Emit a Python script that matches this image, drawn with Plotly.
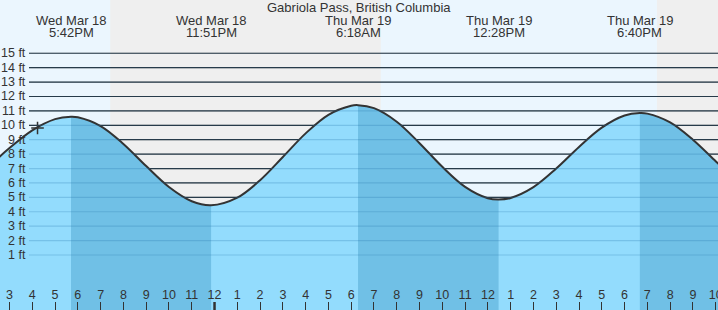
import plotly.graph_objects as go

# ---------------- data ----------------
title_text = "Gabriola Pass, British Columbia"

# tide curve (hours since Wed Mar 18 00:00, feet)
tide_times = [14.5, 15, 16, 17, 17.70, 18, 19, 20, 21, 22, 23, 23.85,
              25, 26, 27, 28, 29, 30, 30.30, 31, 32, 33, 34, 35, 36, 36.47,
              37, 38, 39, 40, 41, 42, 42.67, 43, 44, 45, 46, 46.5]
tide_heights = [7.73, 8.42, 9.65, 10.43, 10.60, 10.56, 9.95, 8.71, 7.17, 5.72, 4.73, 4.45,
                4.98, 6.19, 7.80, 9.44, 10.73, 11.36, 11.40, 11.19, 10.25, 8.76, 7.12, 5.73, 4.94, 4.85,
                4.96, 5.71, 7.00, 8.50, 9.84, 10.68, 10.85, 10.81, 10.20, 9.00, 7.51, 6.77]

# high / low extremes
ext_times = [17.70, 23.85, 30.30, 36.47, 42.67]
ext_types = ["high", "low", "high", "low", "high"]
ext_day_labels = ["Wed Mar 18", "Wed Mar 18", "Thu Mar 19", "Thu Mar 19", "Thu Mar 19"]
ext_time_labels = ["5:42PM", "11:51PM", "6:18AM", "12:28PM", "6:40PM"]

# sunset / sunrise (hours)
night_start = [19.42, 43.42]
night_end = [31.30, 50.0]

# current-time marker
now_time = [16.23]
now_height = [9.81]

# axes
x_range = [14.583, 46.102]
y_range = [-2.818, 18.696]
hour_ticks = list(range(15, 47))
hour_labels = [str((h - 1) % 12 + 1) for h in hour_ticks]
midnight_ticks = [24]
ft_levels = list(range(1, 16))
ft_labels = [f"{v} ft" for v in ft_levels]

# ---------------- style ----------------
DAY_BG = "#ebf6fe"
NIGHT_BG = "#efefef"
FLOOD_FILL = "#93dcfd"
EBB_FILL = "#70c0e6"
TEXT = "#333333"
FONT = "Liberation Sans, Arial, sans-serif"

fig = go.Figure()

# light fill under whole curve
base = y_range[0]
fig.add_trace(go.Scatter(x=tide_times, y=[base] * len(tide_times), mode="lines",
                         line=dict(width=0), hoverinfo="skip", showlegend=False))
fig.add_trace(go.Scatter(x=tide_times, y=tide_heights, mode="lines", fill="tonexty",
                         fillcolor=FLOOD_FILL, line=dict(width=0, shape="spline"),
                         hoverinfo="skip", showlegend=False))

# darker fill on falling (ebb) tide: from each high to the next low
for i, t0 in enumerate(ext_times):
    if ext_types[i] != "high":
        continue
    t1 = ext_times[i + 1] if i + 1 < len(ext_times) else tide_times[-1]
    seg_x = [t for t in tide_times if t0 <= t <= t1]
    seg_y = [h for t, h in zip(tide_times, tide_heights) if t0 <= t <= t1]
    fig.add_trace(go.Scatter(x=seg_x, y=[base] * len(seg_x), mode="lines",
                             line=dict(width=0), hoverinfo="skip", showlegend=False))
    fig.add_trace(go.Scatter(x=seg_x, y=seg_y, mode="lines", fill="tonexty",
                             fillcolor=EBB_FILL, line=dict(width=0, shape="spline"),
                             hoverinfo="skip", showlegend=False))

# curve outline
fig.add_trace(go.Scatter(x=tide_times, y=tide_heights, mode="lines",
                         line=dict(color="#333333", width=2, shape="spline"),
                         hoverinfo="skip", showlegend=False))

# current time marker
fig.add_trace(go.Scatter(x=now_time, y=now_height, mode="markers",
                         marker=dict(symbol="cross-thin", size=9,
                                     line=dict(color="#333333", width=1.5)),
                         hoverinfo="skip", showlegend=False))

shapes = []
for a, b in zip(night_start, night_end):
    shapes.append(dict(type="rect", xref="x", yref="paper", x0=a, x1=b, y0=0, y1=1,
                       fillcolor=NIGHT_BG, line=dict(width=0), layer="below"))
for v in ft_levels:
    shapes.append(dict(type="line", xref="paper", yref="y", x0=29 / 718, x1=1, y0=v, y1=v,
                       line=dict(color="#2a2a2a", width=1.2), layer="below"))
    shapes.append(dict(type="line", xref="paper", yref="y", x0=29 / 718, x1=1, y0=v, y1=v,
                       line=dict(color="rgba(30,110,170,0.25)", width=1.2), layer="above"))
for m in midnight_ticks:
    shapes.append(dict(type="line", xref="x", yref="paper", x0=m, x1=m, y0=0, y1=8 / 310,
                       line=dict(color="#333333", width=2.5), layer="above"))

annotations = [dict(text=title_text, xref="paper", yref="paper", x=0.5, y=1 - 7.5 / 310,
                    xanchor="center", yanchor="middle", showarrow=False,
                    font=dict(size=13, color=TEXT, family=FONT))]
for t, d, tl in zip(ext_times, ext_day_labels, ext_time_labels):
    annotations.append(dict(text=d, xref="x", yref="paper", x=t, y=1 - 20.5 / 310,
                            xanchor="center", yanchor="middle", showarrow=False,
                            font=dict(size=13, color=TEXT, family=FONT)))
    annotations.append(dict(text=tl, xref="x", yref="paper", x=t, y=1 - 32.5 / 310,
                            xanchor="center", yanchor="middle", showarrow=False,
                            font=dict(size=13, color=TEXT, family=FONT)))
for v, lab in zip(ft_levels, ft_labels):
    annotations.append(dict(text=lab, xref="paper", yref="y", x=28 / 718, y=v,
                            xanchor="right", yanchor="middle", showarrow=False,
                            font=dict(size=12.5, color=TEXT, family=FONT)))

fig.update_layout(
    width=718, height=310, autosize=False,
    margin=dict(l=0, r=0, t=0, b=0, pad=0, autoexpand=False),
    paper_bgcolor=DAY_BG, plot_bgcolor=DAY_BG,
    showlegend=False,
    shapes=shapes, annotations=annotations,
    xaxis=dict(range=x_range, showgrid=False, zeroline=False, showline=False,
               automargin=False,
               tickmode="array", tickvals=hour_ticks, ticktext=hour_labels,
               ticks="inside", ticklen=8, tickwidth=1, tickcolor="#333333",
               ticklabelposition="inside", ticklabeloverflow="allow",
               tickfont=dict(size=12.5, color=TEXT, family=FONT), fixedrange=True),
    yaxis=dict(range=y_range, visible=False, showgrid=False, zeroline=False,
               automargin=False, fixedrange=True),
)

fig.write_html("out.html", config=dict(displayModeBar=False))
